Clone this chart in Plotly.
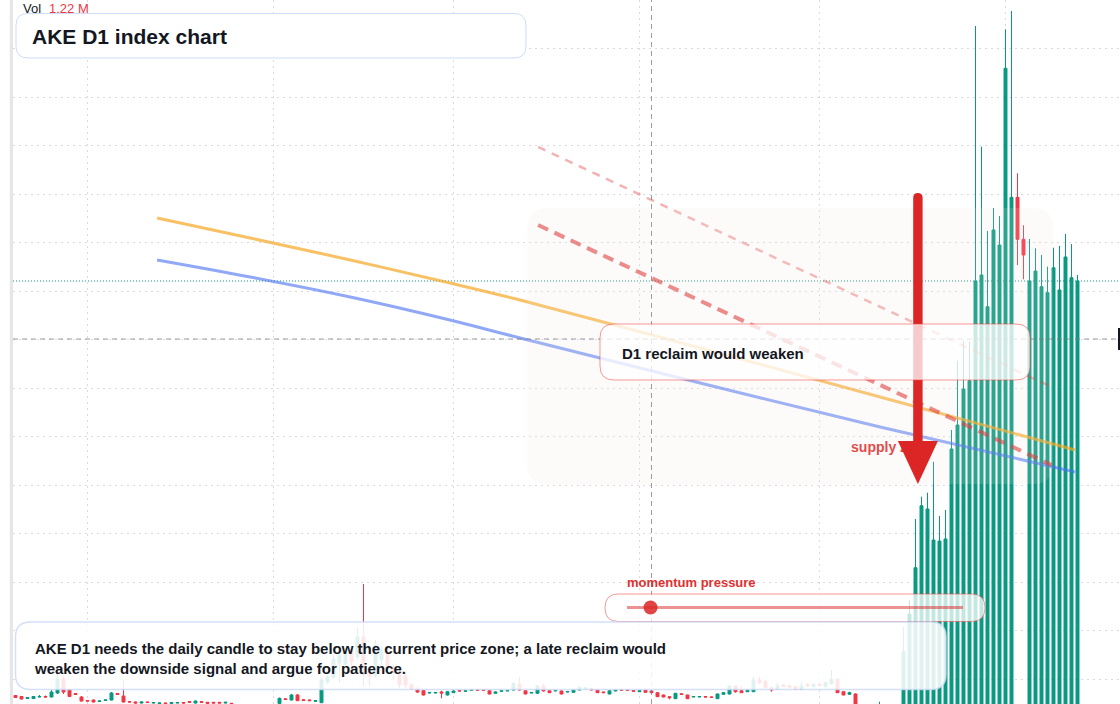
import numpy as np
import pandas as pd
import plotly.graph_objects as go

# ---------------- data ----------------
dates = pd.date_range("2024-07-20", periods=178, freq="D")

opens = [
    0.660, 0.639, 0.598, 0.598, 0.629, 0.639, 0.629, 0.711, 1.000, 0.773,
    0.701, 0.629, 0.557, 0.567, 0.536, 0.557, 0.567, 0.701, 0.649, 0.536,
    0.526, 0.505, 0.526, 0.505, 0.495, 0.505, 0.495, 0.505, 0.515, 0.536,
    0.505, 0.536, 0.520, 0.520, 0.520, 0.505, 0.499, 0.470, 0.450, 0.460,
    0.450, 0.430, 0.450, 0.460, 0.495, 0.592, 0.567, 0.670, 0.571, 0.567,
    0.540, 0.511, 0.938, 1.041, 1.330, 1.309, 1.598, 1.454, 1.866, 1.144,
    1.082, 1.392, 1.557, 1.227, 1.144, 1.062, 0.876, 0.794, 0.763, 0.711,
    0.711, 0.732, 0.670, 0.718, 0.763, 0.746, 0.767, 0.779, 0.779, 0.759,
    0.705, 0.746, 0.753, 0.773, 0.897, 0.759, 0.711, 0.705, 0.856, 0.759,
    0.753, 0.753, 0.732, 0.725, 0.773, 0.800, 0.808, 0.773, 0.732, 0.691,
    0.753, 0.777, 0.777, 0.763, 0.738, 0.773, 0.753, 0.718, 0.670, 0.635,
    0.594, 0.695, 0.670, 0.629, 0.629, 0.639, 0.629, 0.594, 0.685, 0.691,
    0.856, 0.759, 0.738, 0.738, 0.979, 0.944, 0.821, 0.794, 0.876, 0.862,
    0.841, 0.788, 0.891, 0.841, 0.891, 0.841, 0.897, 0.994, 0.738, 0.685,
    0.691, 0.440, 0.400, 0.420, 0.320, 0.440, 0.410, 0.430, 0.450, 0.420,
    0.400, 0.380, 0.360, 0.350, 0.340, 0.330, 0.320, 0.310, 0.300, 0.300,
    0.290, 0.290, 0.280, 0.280, 0.270, 0.270, 0.260, 10.932, 10.066, 0.260,
    0.260, 0.250, 0.250, 0.250, 0.240, 0.240, 0.240, 0.230,
]
highs = [
    0.670, 0.649, 0.629, 0.649, 0.670, 0.660, 0.773, 1.103, 1.062, 0.794,
    0.711, 0.649, 0.567, 0.577, 0.557, 0.577, 0.732, 0.711, 0.979, 0.546,
    0.536, 0.536, 0.536, 0.526, 0.515, 0.515, 0.526, 0.526, 0.526, 0.546,
    0.557, 0.546, 0.526, 0.526, 0.526, 0.526, 0.505, 0.480, 0.470, 0.475,
    0.460, 0.460, 0.470, 0.480, 0.619, 0.608, 0.691, 0.691, 0.588, 0.577,
    0.567, 1.021, 1.082, 1.495, 1.557, 1.639, 1.680, 2.052, 2.959, 1.227,
    1.804, 1.680, 1.639, 1.289, 1.227, 1.144, 0.918, 0.835, 0.773, 0.732,
    0.732, 0.759, 0.753, 0.773, 0.773, 0.773, 0.794, 0.794, 0.794, 0.773,
    0.742, 0.763, 0.773, 0.938, 1.047, 0.773, 0.732, 0.876, 0.897, 0.767,
    0.773, 0.763, 0.753, 0.784, 0.856, 0.835, 0.814, 0.784, 0.738, 0.767,
    0.784, 0.784, 0.784, 0.769, 0.767, 0.779, 0.759, 0.726, 0.676, 0.643,
    0.711, 0.705, 0.676, 0.649, 0.649, 0.649, 0.635, 0.697, 0.726, 0.866,
    0.862, 0.856, 0.784, 1.047, 1.047, 0.979, 0.835, 0.924, 0.897, 0.876,
    0.849, 0.944, 0.911, 0.903, 0.924, 0.938, 1.186, 1.000, 0.746, 0.738,
    0.705, 0.470, 0.450, 0.460, 0.532, 0.470, 0.460, 0.470, 2.078, 2.629,
    4.299, 4.759, 4.841, 5.480, 4.361, 4.485, 6.134, 7.563, 7.969, 7.954,
    14.464, 11.975, 10.237, 10.711, 10.546, 14.396, 14.773, 11.427, 10.355, 10.072,
    9.880, 9.742, 9.501, 9.893, 9.928, 10.175, 9.969, 9.330,
]
lows = [
    0.608, 0.577, 0.588, 0.588, 0.619, 0.619, 0.619, 0.691, 0.691, 0.629,
    0.670, 0.536, 0.536, 0.515, 0.526, 0.546, 0.557, 0.670, 0.515, 0.515,
    0.495, 0.495, 0.505, 0.495, 0.485, 0.485, 0.485, 0.495, 0.495, 0.511,
    0.495, 0.511, 0.491, 0.495, 0.495, 0.495, 0.474, 0.440, 0.430, 0.440,
    0.420, 0.420, 0.440, 0.450, 0.474, 0.567, 0.557, 0.546, 0.546, 0.546,
    0.536, 0.505, 0.897, 1.000, 0.918, 1.247, 1.268, 1.392, 0.856, 0.856,
    1.021, 1.309, 1.144, 0.979, 0.814, 0.814, 0.773, 0.711, 0.660, 0.701,
    0.701, 0.602, 0.660, 0.711, 0.742, 0.742, 0.763, 0.763, 0.763, 0.680,
    0.701, 0.742, 0.746, 0.763, 0.763, 0.680, 0.701, 0.691, 0.742, 0.711,
    0.746, 0.680, 0.725, 0.722, 0.767, 0.794, 0.763, 0.711, 0.711, 0.680,
    0.746, 0.763, 0.763, 0.742, 0.732, 0.718, 0.711, 0.629, 0.623, 0.581,
    0.588, 0.670, 0.588, 0.623, 0.623, 0.623, 0.616, 0.588, 0.676, 0.680,
    0.718, 0.711, 0.732, 0.732, 0.897, 0.814, 0.738, 0.784, 0.835, 0.821,
    0.779, 0.779, 0.849, 0.835, 0.856, 0.835, 0.891, 0.711, 0.664, 0.670,
    0.361, 0.380, 0.360, 0.370, 0.280, 0.380, 0.360, 0.390, 0.400, 0.380,
    0.360, 0.330, 0.320, 0.300, 0.300, 0.290, 0.280, 0.270, 0.260, 0.260,
    0.250, 0.250, 0.240, 0.240, 0.230, 0.230, 0.220, 9.536, 9.241, 0.220,
    0.220, 0.210, 0.210, 0.210, 0.200, 0.200, 0.200, 0.200,
]
closes = [
    0.619, 0.588, 0.619, 0.639, 0.639, 0.629, 0.732, 1.000, 0.732, 0.639,
    0.680, 0.546, 0.546, 0.526, 0.546, 0.567, 0.711, 0.680, 0.526, 0.526,
    0.505, 0.526, 0.515, 0.515, 0.505, 0.495, 0.515, 0.515, 0.505, 0.520,
    0.546, 0.520, 0.499, 0.505, 0.505, 0.520, 0.489, 0.450, 0.460, 0.450,
    0.430, 0.450, 0.460, 0.470, 0.602, 0.577, 0.670, 0.553, 0.557, 0.553,
    0.553, 0.979, 1.041, 1.412, 1.495, 1.557, 1.351, 1.866, 1.082, 1.062,
    1.701, 1.598, 1.227, 1.144, 0.876, 0.876, 0.794, 0.732, 0.670, 0.722,
    0.722, 0.711, 0.738, 0.753, 0.753, 0.759, 0.779, 0.767, 0.767, 0.691,
    0.732, 0.759, 0.763, 0.911, 0.773, 0.691, 0.722, 0.856, 0.753, 0.718,
    0.763, 0.691, 0.742, 0.773, 0.821, 0.814, 0.773, 0.718, 0.718, 0.759,
    0.773, 0.767, 0.767, 0.748, 0.759, 0.726, 0.718, 0.635, 0.629, 0.614,
    0.705, 0.680, 0.594, 0.639, 0.639, 0.629, 0.622, 0.691, 0.718, 0.856,
    0.738, 0.718, 0.773, 0.979, 0.918, 0.821, 0.773, 0.856, 0.841, 0.829,
    0.788, 0.856, 0.856, 0.891, 0.862, 0.924, 0.994, 0.718, 0.670, 0.718,
    0.443, 0.400, 0.420, 0.390, 0.440, 0.410, 0.430, 0.450, 1.563, 2.340,
    3.295, 4.573, 4.505, 3.866, 3.845, 3.887, 5.742, 6.237, 6.979, 7.151,
    9.206, 9.330, 8.676, 10.258, 9.948, 13.592, 10.932, 10.066, 9.742, 9.206,
    9.412, 9.089, 8.965, 9.480, 9.021, 9.701, 9.274, 9.206,
]

vol_label = "1.22 M"
title_text = "AKE D1 index chart"
note_lines = [
    "AKE D1 needs the daily candle to stay below the current price zone; a late reclaim would",
    "weaken the downside signal and argue for patience.",
]
reclaim_text = "D1 reclaim would weaken"
zone_label = "supply zone"
momentum_label = "momentum pressure"
momentum_level = 0.07  # position of the marker along the gauge (0..1)

# overlays in candle-index / price units
ma_x = [23.6, 39.1, 55.8, 72.4, 84.1, 114.1, 144.1, 176.6]
ma_orange_y = [10.505, 10.093, 9.639, 9.165, 8.814, 7.825, 6.814, 5.722]
ma_blue_y = [9.639, 9.289, 8.876, 8.402, 8.031, 7.103, 6.196, 5.268]
upper_dash_x = [87.1, 172.7]
upper_dash_y = [11.97, 7.02]
lower_dash_x = [87.1, 172.7]
lower_dash_y = [10.36, 5.41]
zone_x = [85.3, 172.9]
zone_y = [5.02, 10.71]
arrow_x = 150.4
arrow_y = [11.02, 5.02]
zone_label_pos = [146.0, 5.76]
crosshair_x = 106
crosshair_y = 8.01

# ---------------- styling / helpers ----------------
W, H, ML = 1120, 704, 13
FONT = "Liberation Sans, Arial, sans-serif"
GREEN = "#089981"
RED = "#f23645"
DARK = "#131722"
XR = [-0.4167, 184.0833]
YR = [0.4845, 15.0]
UX = (W - ML) / (XR[1] - XR[0])   # px per index
UY = H / (YR[1] - YR[0])          # px per price unit


def PX(x):
    return (x - ML) / (W - ML)


def PY(y):
    return 1 - y / H


def rr_paper(x0, y0, x1, y1, r):
    P = lambda x, y: f"{PX(x):.5f},{PY(y):.5f}"
    return (f"M {P(x0 + r, y0)} L {P(x1 - r, y0)} Q {P(x1, y0)} {P(x1, y0 + r)} "
            f"L {P(x1, y1 - r)} Q {P(x1, y1)} {P(x1 - r, y1)} L {P(x0 + r, y1)} "
            f"Q {P(x0, y1)} {P(x0, y1 - r)} L {P(x0, y0 + r)} Q {P(x0, y0)} {P(x0 + r, y0)} Z")


def rr_data(xa, xb, ylo, yhi, rpx):
    rx, ry = rpx / UX, rpx / UY
    P = lambda x, y: f"{x:.4f},{y:.4f}"
    return (f"M {P(xa + rx, yhi)} L {P(xb - rx, yhi)} Q {P(xb, yhi)} {P(xb, yhi - ry)} "
            f"L {P(xb, ylo + ry)} Q {P(xb, ylo)} {P(xb - rx, ylo)} L {P(xa + rx, ylo)} "
            f"Q {P(xa, ylo)} {P(xa, ylo + ry)} L {P(xa, yhi - ry)} Q {P(xa, yhi)} {P(xa + rx, yhi)} Z")


xs = np.arange(len(dates))
month_idx = [i for i, d in enumerate(dates) if d.day == 1]

fig = go.Figure()
fig.add_trace(go.Candlestick(
    x=xs, open=opens, high=highs, low=lows, close=closes,
    increasing=dict(line=dict(color=GREEN, width=1), fillcolor=GREEN),
    decreasing=dict(line=dict(color=RED, width=1), fillcolor=RED),
    whiskerwidth=0, hoverinfo="skip", showlegend=False,
))
fig.add_trace(go.Scatter(x=ma_x, y=ma_orange_y, mode="lines", hoverinfo="skip",
                         line=dict(color="rgba(245,166,35,0.7)", width=3, shape="spline")))
fig.add_trace(go.Scatter(x=ma_x, y=ma_blue_y, mode="lines", hoverinfo="skip",
                         line=dict(color="rgba(70,110,240,0.6)", width=3, shape="spline")))
fig.add_trace(go.Scatter(x=upper_dash_x, y=upper_dash_y, mode="lines", hoverinfo="skip",
                         line=dict(color="rgba(220,38,38,0.35)", width=2.5, dash="8px,7px")))
fig.add_trace(go.Scatter(x=lower_dash_x, y=lower_dash_y, mode="lines", hoverinfo="skip",
                         line=dict(color="rgba(220,38,38,0.6)", width=4, dash="11px,7px")))
fig.add_trace(go.Scatter(x=[zone_label_pos[0]], y=[zone_label_pos[1]], mode="text",
                         text=[f"<b>{zone_label}</b>"], textposition="middle center",
                         textfont=dict(color="#e03131", size=14, family=FONT), hoverinfo="skip"))

shapes = []
# left strip
shapes.append(dict(type="rect", xref="paper", yref="paper", x0=PX(9.8), x1=PX(13), y0=0, y1=1,
                   fillcolor="#e6e6e9", line=dict(width=0), layer="above"))
# last price line
shapes.append(dict(type="line", xref="paper", yref="y", x0=0, x1=1, y0=closes[-1], y1=closes[-1],
                   line=dict(color=GREEN, width=1, dash="1px,2px"), layer="below"))
# supply zone
shapes.append(dict(type="path", xref="x", yref="y",
                   path=rr_data(zone_x[0], zone_x[1], zone_y[0], zone_y[1], 20),
                   fillcolor="rgba(242,228,220,0.15)", line=dict(width=0), layer="above"))
# crosshair
shapes.append(dict(type="line", xref="x", yref="paper", x0=crosshair_x, x1=crosshair_x, y0=0, y1=1,
                   line=dict(color="rgba(120,123,134,0.75)", width=1, dash="5px,4px"), layer="above"))
shapes.append(dict(type="line", xref="paper", yref="y", x0=0, x1=1, y0=crosshair_y, y1=crosshair_y,
                   line=dict(color="rgba(120,123,134,0.75)", width=1, dash="5px,4px"), layer="above"))
shapes.append(dict(type="rect", xref="paper", yref="paper", x0=PX(1118), x1=PX(1121),
                   y0=PY(350), y1=PY(328), fillcolor=DARK, line=dict(width=0), layer="above"))
# arrow
hw = 4.7 / UX
cap = 4.7 / UY
head_len = 43 / UY
head_hw = 20 / UX
base = arrow_y[1] + head_len
shaft = (f"M {arrow_x - hw:.4f},{base:.4f} L {arrow_x - hw:.4f},{arrow_y[0] - cap:.4f} "
         f"Q {arrow_x - hw:.4f},{arrow_y[0]:.4f} {arrow_x:.4f},{arrow_y[0]:.4f} "
         f"Q {arrow_x + hw:.4f},{arrow_y[0]:.4f} {arrow_x + hw:.4f},{arrow_y[0] - cap:.4f} "
         f"L {arrow_x + hw:.4f},{base:.4f} Z")
head = (f"M {arrow_x - head_hw:.4f},{base:.4f} L {arrow_x + head_hw:.4f},{base:.4f} "
        f"L {arrow_x:.4f},{arrow_y[1]:.4f} Z")
shapes.append(dict(type="path", xref="x", yref="y", path=shaft, fillcolor="#dc2626",
                   line=dict(width=0), layer="above"))
shapes.append(dict(type="path", xref="x", yref="y", path=head, fillcolor="#dc2626",
                   line=dict(width=0), layer="above"))
# reclaim box
shapes.append(dict(type="path", xref="paper", yref="paper", path=rr_paper(600, 324, 1030, 380, 14),
                   fillcolor="rgba(255,255,255,0.76)", line=dict(color="rgba(239,68,68,0.55)", width=1),
                   layer="above"))
# momentum gauge
shapes.append(dict(type="path", xref="paper", yref="paper", path=rr_paper(605, 594, 985, 621.5, 13.5),
                   fillcolor="rgba(255,255,255,0.76)", line=dict(color="rgba(239,68,68,0.55)", width=1),
                   layer="above"))
g0, g1, gy = 627, 963, 607.5
shapes.append(dict(type="line", xref="paper", yref="paper", x0=PX(g0), x1=PX(g1), y0=PY(gy), y1=PY(gy),
                   line=dict(color="rgba(220,38,38,0.5)", width=3), layer="above"))
dot_x = g0 + momentum_level * (g1 - g0)
shapes.append(dict(type="circle", xref="paper", yref="paper", xsizemode="pixel", ysizemode="pixel",
                   xanchor=PX(dot_x), yanchor=PY(gy), x0=-7, x1=7, y0=-7, y1=7,
                   fillcolor="rgba(220,38,38,0.85)", line=dict(width=0), layer="above"))
# note box
shapes.append(dict(type="path", xref="paper", yref="paper", path=rr_paper(15.5, 622, 946, 689.5, 15),
                   fillcolor="rgba(255,255,255,0.87)", line=dict(color="rgba(200,216,246,0.8)", width=1.5),
                   layer="above"))
# title box
shapes.append(dict(type="path", xref="paper", yref="paper", path=rr_paper(16, 13.5, 526, 58, 12),
                   fillcolor="rgba(255,255,255,0.95)", line=dict(color="rgba(200,216,246,0.9)", width=1),
                   layer="above"))

ann = []


def add_text(x, y, text, size, color, bold=False):
    ann.append(dict(xref="paper", yref="paper", x=PX(x), y=PY(y), xanchor="left", yanchor="middle",
                    text=(f"<b>{text}</b>" if bold else text), showarrow=False, align="left",
                    font=dict(family=FONT, size=size, color=color)))


add_text(21, 8.5, "Vol", 13, DARK)
add_text(47, 8.5, vol_label, 13, RED)
add_text(30, 36, title_text, 21, DARK, bold=True)
add_text(620, 353, reclaim_text, 15, DARK, bold=True)
add_text(625, 582.5, momentum_label, 13, "#e03131", bold=True)
add_text(32, 658, "<br>".join(note_lines), 15, DARK, bold=True)

axis_common = dict(showticklabels=False, showgrid=True, gridcolor="#d9dbe0", griddash="2px,4px",
                   gridwidth=1, zeroline=False, showline=False, ticks="", fixedrange=True)
fig.update_layout(
    width=W, height=H, margin=dict(l=ML, r=0, t=0, b=0),
    paper_bgcolor="white", plot_bgcolor="white", showlegend=False, hovermode=False,
    font=dict(family=FONT),
    xaxis=dict(range=XR, tickmode="array", tickvals=month_idx, rangeslider=dict(visible=False), **axis_common),
    yaxis=dict(range=YR, tick0=0, dtick=1, **axis_common),
    shapes=shapes, annotations=ann,
)

fig.write_html("out.html", config={"displayModeBar": False, "staticPlot": True},
               post_script="document.body.style.margin='0';document.body.style.overflow='hidden';")
